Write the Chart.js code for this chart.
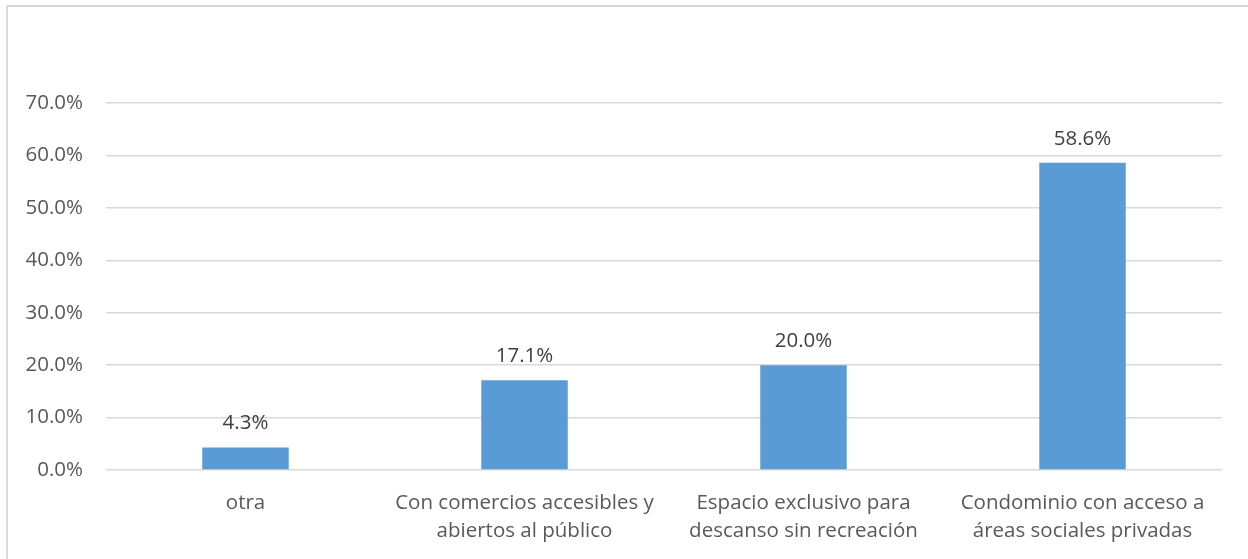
<!DOCTYPE html>
<html>
<head>
<meta charset="utf-8">
<script src="https://cdn.jsdelivr.net/npm/chart.js@4"></script>
<style>
  body { margin: 0; background: #fff; overflow: hidden; }
  #wrap { position: relative; width: 1248px; height: 559px; overflow: hidden; }
  #frame { position: absolute; left: 6px; top: 5px; width: 1260px; height: 560px; border: 2px solid #d9d9d9; pointer-events: none; }
</style>
</head>
<body>
<div id="wrap">
  <canvas id="myChart" width="1248" height="559"></canvas>
  <div id="frame"></div>
</div>
<script>
const categories = [
  "otra",
  ["Con comercios accesibles y", "abiertos al público"],
  ["Espacio exclusivo para", "descanso sin recreación"],
  ["Condominio con acceso a", "áreas sociales privadas"]
];
const values = [4.3, 17.1, 20.0, 58.6];
const yTicks = [0, 10, 20, 30, 40, 50, 60, 70];

const fontFamily = "'Open Sans', 'Noto Sans', sans-serif";
const fontSize = 20.5;

// draws the value above each bar
const barLabels = {
  id: "barLabels",
  afterDatasetsDraw(chart) {
    const c = chart.ctx;
    const meta = chart.getDatasetMeta(0);
    c.save();
    c.font = fontSize + "px " + fontFamily;
    c.fillStyle = "#404040";
    c.textAlign = "center";
    c.textBaseline = "middle";
    meta.data.forEach((bar, i) => {
      c.fillText(values[i].toFixed(1) + "%", bar.x, bar.y - 24);
    });
    c.restore();
  }
};

const ctx = document.getElementById("myChart");

new Chart(ctx, {
  type: "bar",
  data: {
    labels: categories,
    datasets: [
      {
        data: values,
        backgroundColor: "#5b9bd5",
        barPercentage: 0.31,
        categoryPercentage: 1.0
      }
    ]
  },
  options: {
    responsive: false,
    animation: false,
    layout: { padding: { top: 103, right: 26, left: 0, bottom: 0 } },
    plugins: { legend: { display: false }, tooltip: { enabled: false } },
    scales: {
      x: {
        grid: { display: false, drawTicks: false },
        border: { display: false },
        ticks: { color: "#595959", font: { size: fontSize, family: fontFamily, lineHeight: 1.37 }, padding: 19, maxRotation: 0, autoSkip: false },
        afterFit(scale) { scale.height = 89; }
      },
      y: {
        min: 0,
        max: 70,
        afterBuildTicks(scale) { scale.ticks = yTicks.map(v => ({ value: v })); },
        grid: { color: "#d9d9d9", lineWidth: 1.5, drawTicks: false },
        border: { display: false },
        ticks: {
          color: "#595959",
          font: { size: fontSize, family: fontFamily },
          padding: 23,
          callback: v => v.toFixed(1) + "%"
        },
        afterFit(scale) { scale.width = 106; }
      }
    }
  },
  plugins: [barLabels]
});
</script>
</body>
</html>
